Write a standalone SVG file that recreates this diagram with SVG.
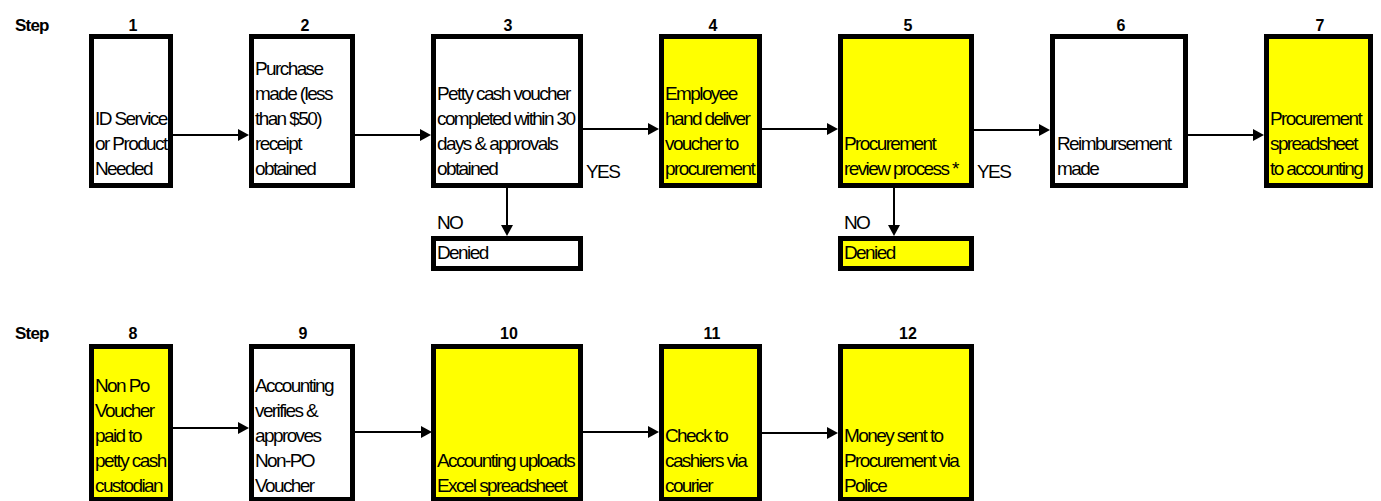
<svg xmlns="http://www.w3.org/2000/svg" width="1381" height="501" viewBox="0 0 1381 501">
<defs>
<style>
.box{stroke:#000;stroke-width:5;}
.w{fill:#fff;}
.y{fill:#ffff00;}
.t{font-family:"Liberation Sans",Arial,sans-serif;font-size:19px;letter-spacing:-1.6px;fill:#000;}
.h{font-family:"Liberation Sans",Arial,sans-serif;font-size:16px;font-weight:bold;fill:#000;text-anchor:middle;}
.s{font-family:"Liberation Sans",Arial,sans-serif;font-size:17px;font-weight:bold;letter-spacing:-0.8px;fill:#000;}
.c{stroke:#000;stroke-width:2;fill:none;marker-end:url(#ah);}
</style>
<marker id="ah" markerWidth="12" markerHeight="12" refX="5" refY="6" orient="auto" markerUnits="userSpaceOnUse">
<path d="M0,0 L11,6 L0,12 z" fill="#000"/>
</marker>
</defs>
<rect width="1381" height="501" fill="#fff"/>

<g id="headers">
<text class="s" x="15" y="31">Step</text>
<text class="h" x="133" y="31">1</text>
<text class="h" x="305" y="31">2</text>
<text class="h" x="508" y="31">3</text>
<text class="h" x="713" y="31">4</text>
<text class="h" x="908" y="31">5</text>
<text class="h" x="1121" y="31">6</text>
<text class="h" x="1320" y="31">7</text>
<text class="s" x="15" y="339">Step</text>
<text class="h" x="133" y="339">8</text>
<text class="h" x="303" y="339">9</text>
<text class="h" x="509" y="339">10</text>
<text class="h" x="712" y="339">11</text>
<text class="h" x="908" y="339">12</text>
</g>

<g id="connectors">
<path class="c" d="M173,135 H243"/>
<path class="c" d="M355,135 H425"/>
<path class="c" d="M583,129 H653"/>
<path class="c" d="M762,129 H832"/>
<path class="c" d="M974,130 H1044"/>
<path class="c" d="M1188,135 H1258"/>
<path class="c" d="M507,188 V230"/>
<path class="c" d="M894,188 V230"/>
<path class="c" d="M173,428 H243"/>
<path class="c" d="M355,432 H426"/>
<path class="c" d="M583,432 H653"/>
<path class="c" d="M762,433 H832"/>
<text class="t" x="586" y="178">YES</text>
<text class="t" x="977" y="178">YES</text>
<text class="t" x="437" y="229">NO</text>
<text class="t" x="844" y="229">NO</text>
</g>

<g id="step1">
<rect class="box w" x="91.5" y="36.5" width="79" height="149"/>
<text class="t"><tspan x="95" y="125">ID Service</tspan><tspan x="95" y="150">or Product</tspan><tspan x="95" y="175">Needed</tspan></text>
</g>
<g id="step2">
<rect class="box w" x="251.5" y="36.5" width="101" height="149"/>
<text class="t"><tspan x="255" y="75">Purchase</tspan><tspan x="255" y="100">made (less</tspan><tspan x="255" y="125">than $50)</tspan><tspan x="255" y="150">receipt</tspan><tspan x="255" y="175">obtained</tspan></text>
</g>
<g id="step3">
<rect class="box w" x="433.5" y="36.5" width="147" height="149"/>
<text class="t"><tspan x="437" y="100">Petty cash voucher</tspan><tspan x="437" y="125">completed within 30</tspan><tspan x="437" y="150">days &amp; approvals</tspan><tspan x="437" y="175">obtained</tspan></text>
</g>
<g id="denied3">
<rect class="box w" x="433.5" y="238.5" width="147" height="30"/>
<text class="t" x="437" y="259">Denied</text>
</g>
<g id="step4">
<rect class="box y" x="661.5" y="36.5" width="98" height="149"/>
<text class="t"><tspan x="665" y="100">Employee</tspan><tspan x="665" y="125">hand deliver</tspan><tspan x="665" y="150">voucher to</tspan><tspan x="665" y="175">procurement</tspan></text>
</g>
<g id="step5">
<rect class="box y" x="840.5" y="36.5" width="131" height="149"/>
<text class="t"><tspan x="844" y="150">Procurement</tspan><tspan x="844" y="175">review process *</tspan></text>
</g>
<g id="denied5">
<rect class="box y" x="840.5" y="238.5" width="131" height="30"/>
<text class="t" x="844" y="259">Denied</text>
</g>
<g id="step6">
<rect class="box w" x="1052.5" y="36.5" width="133" height="149"/>
<text class="t"><tspan x="1057" y="150">Reimbursement</tspan><tspan x="1057" y="175">made</tspan></text>
</g>
<g id="step7">
<rect class="box y" x="1266.5" y="36.5" width="104" height="149"/>
<text class="t"><tspan x="1270" y="125">Procurement</tspan><tspan x="1270" y="150">spreadsheet</tspan><tspan x="1270" y="175">to accounting</tspan></text>
</g>

<g id="step8">
<rect class="box y" x="91.5" y="346.5" width="79" height="153"/>
<text class="t"><tspan x="95" y="392">Non Po</tspan><tspan x="95" y="417">Voucher</tspan><tspan x="95" y="442">paid to</tspan><tspan x="95" y="467">petty cash</tspan><tspan x="95" y="492">custodian</tspan></text>
</g>
<g id="step9">
<rect class="box w" x="251.5" y="346.5" width="101" height="153"/>
<text class="t"><tspan x="255" y="392">Accounting</tspan><tspan x="255" y="417">verifies &amp;</tspan><tspan x="255" y="442">approves</tspan><tspan x="255" y="467">Non-PO</tspan><tspan x="255" y="492">Voucher</tspan></text>
</g>
<g id="step10">
<rect class="box y" x="433.5" y="346.5" width="147" height="153"/>
<text class="t"><tspan x="437" y="467">Accounting uploads</tspan><tspan x="437" y="492">Excel spreadsheet</tspan></text>
</g>
<g id="step11">
<rect class="box y" x="661.5" y="346.5" width="98" height="153"/>
<text class="t"><tspan x="665" y="442">Check to</tspan><tspan x="665" y="467">cashiers via</tspan><tspan x="665" y="492">courier</tspan></text>
</g>
<g id="step12">
<rect class="box y" x="840.5" y="346.5" width="131" height="153"/>
<text class="t"><tspan x="844" y="442">Money sent to</tspan><tspan x="844" y="467">Procurement via</tspan><tspan x="844" y="492">Police</tspan></text>
</g>
</svg>
